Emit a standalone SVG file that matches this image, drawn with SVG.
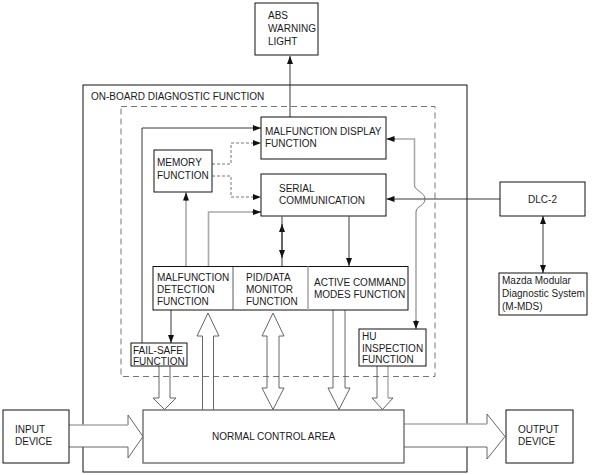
<svg xmlns="http://www.w3.org/2000/svg" width="594" height="475" viewBox="0 0 594 475">
<defs>
<style>
text{font-family:"Liberation Sans",Arial,sans-serif;font-size:10px;fill:#1a1a1a}
.box{fill:#fff;stroke:#111;stroke-width:1}
.ln{fill:none;stroke:#222;stroke-width:0.9}
.gr{fill:none;stroke:#aaa;stroke-width:1.6}
.ds{fill:none;stroke:#666;stroke-width:0.9;stroke-dasharray:3 2}
.blk{fill:none;stroke:#555;stroke-width:0.9}
</style>
<marker id="ah" viewBox="0 0 8 6" refX="8" refY="3" markerWidth="8" markerHeight="6" markerUnits="userSpaceOnUse" orient="auto">
<path d="M0,0 L8,3 L0,6 z" fill="#111"/>
</marker>
<marker id="as" viewBox="0 0 8 6" refX="0" refY="3" markerWidth="8" markerHeight="6" markerUnits="userSpaceOnUse" orient="auto">
<path d="M8,0 L0,3 L8,6 z" fill="#111"/>
</marker>
</defs>
<rect width="594" height="475" fill="#fff"/>

<g id="onboard">
<rect x="83" y="85" width="384" height="387" fill="none" stroke="#111" stroke-width="1"/>
<text x="91" y="100">ON-BOARD DIAGNOSTIC FUNCTION</text>
<rect x="121" y="106.5" width="314" height="270" fill="none" stroke="#666" stroke-width="0.9" stroke-dasharray="6 4"/>
</g>

<g id="connectors">
<line class="ln" x1="290" y1="117" x2="290" y2="56" marker-end="url(#ah)"/>
<polyline class="ln" points="142,343 142,128 261,128" marker-end="url(#ah)"/>
<polyline class="ds" points="212,164 231,164 231,143 261,143" marker-end="url(#ah)"/>
<polyline class="ds" points="212,176 231,176 231,197 261,197" marker-end="url(#ah)"/>
<line class="gr" x1="186" y1="266" x2="186" y2="200"/>
<line class="ln" x1="186" y1="201" x2="186" y2="192.5" marker-end="url(#ah)"/>
<polyline class="gr" points="208.5,266 208.5,212 253,212"/>
<line class="ln" x1="252" y1="212" x2="261" y2="212" marker-end="url(#ah)"/>
<line class="ln" x1="282" y1="224" x2="282" y2="258" marker-start="url(#as)" marker-end="url(#ah)"/>
<line class="ln" x1="282" y1="216.5" x2="282" y2="266"/>
<line class="ln" x1="349" y1="216.5" x2="349" y2="266" marker-end="url(#ah)"/>
<line class="ln" x1="500" y1="199" x2="386.5" y2="199" marker-end="url(#ah)"/>
<path class="gr" d="M394,139 H414.5 V185"/>
<path d="M414.5,185 C414.5,191 425,192 425,199 C425,206 416,206 416,212" fill="none" stroke="#666" stroke-width="0.9"/>
<line class="gr" x1="416" y1="212" x2="416" y2="321"/>
<line class="ln" x1="395" y1="139" x2="386.5" y2="139" marker-end="url(#ah)"/>
<line class="ln" x1="416" y1="320" x2="416" y2="329" marker-end="url(#ah)"/>
<line class="ln" x1="171" y1="310" x2="171" y2="343" marker-end="url(#ah)"/>
<line class="ln" x1="543" y1="216" x2="543" y2="273" marker-start="url(#as)" marker-end="url(#ah)"/>
<path class="blk" d="M159,366 V398 H153 L164.5,409.5 L176,398 H170 V366"/>
<path class="blk" d="M202.5,410 V336 H197 L208,313 L219,336 H213.5 V410"/>
<path class="blk" d="M267,336 H262 L273,313 L284,336 H279 V388 H284 L273,409.5 L262,388 H267 Z"/>
<path class="blk" d="M333,310 V388 H328 L339,409.5 L350,388 H345 V310"/>
<path class="blk" d="M377,366 V398 H372 L382.5,409.5 L393,398 H388"/>
<line x1="388" y1="366" x2="388" y2="398" stroke="#aaa" stroke-width="1.4"/>
<path d="M69,425 H128 V415 L143,436.5 L128,458 V447 H69 Z" fill="#fff" stroke="none"/>
<path d="M128,425 V415 L143,436.5 L128,458 V447 H69" fill="none" stroke="#555" stroke-width="0.9"/>
<line x1="69" y1="425" x2="128" y2="425" stroke="#aaa" stroke-width="1.4"/>
<path d="M404,424 H487 V414 L505,436.5 L487,459 V447 H404 Z" fill="#fff" stroke="none"/>
<path d="M487,424 V414 L505,436.5 L487,459 V447 H404" fill="none" stroke="#555" stroke-width="0.9"/>
<line x1="404" y1="424" x2="487" y2="424" stroke="#aaa" stroke-width="1.4"/>
</g>

<g id="abs">
<rect class="box" x="255" y="3" width="63" height="52"/>
<text x="268" y="19">ABS</text>
<text x="268" y="32">WARNING</text>
<text x="268" y="44.5">LIGHT</text>
</g>

<g id="mdf">
<rect class="box" x="261" y="117" width="125" height="42" stroke-width="1.3"/>
<text x="265" y="135">MALFUNCTION DISPLAY</text>
<text x="265" y="147">FUNCTION</text>
</g>

<g id="memory">
<rect class="box" x="154" y="150" width="58" height="42"/>
<text x="157" y="166">MEMORY</text>
<text x="157" y="179">FUNCTION</text>
</g>

<g id="serial">
<rect class="box" x="261" y="174" width="125" height="42" stroke-width="1.3"/>
<text x="279" y="192">SERIAL</text>
<text x="279" y="204">COMMUNICATION</text>
</g>

<g id="functions">
<rect class="box" x="153" y="266.5" width="255" height="43.5"/>
<line x1="233" y1="266.5" x2="233" y2="310" stroke="#333" stroke-width="0.8"/>
<line x1="308" y1="266.5" x2="308" y2="310" stroke="#aaa" stroke-width="1.6"/>
<text x="157" y="281">MALFUNCTION</text>
<text x="157" y="293">DETECTION</text>
<text x="157" y="305">FUNCTION</text>
<text x="246" y="281">PID/DATA</text>
<text x="246" y="293">MONITOR</text>
<text x="246" y="305">FUNCTION</text>
<text x="314" y="286">ACTIVE COMMAND</text>
<text x="314" y="298">MODES FUNCTION</text>
</g>

<g id="failsafe">
<rect class="box" x="131" y="343" width="56" height="23"/>
<text x="133" y="354">FAIL-SAFE</text>
<text x="133" y="364.5">FUNCTION</text>
</g>

<g id="hu">
<rect class="box" x="359" y="329" width="67" height="37"/>
<text x="362" y="340">HU</text>
<text x="362" y="351.5">INSPECTION</text>
<text x="362" y="363">FUNCTION</text>
</g>

<g id="dlc">
<rect class="box" x="500" y="182" width="85" height="34"/>
<text x="542.5" y="203" text-anchor="middle">DLC-2</text>
</g>

<g id="mmds">
<rect class="box" x="499" y="273" width="88" height="42"/>
<text x="502" y="284">Mazda Modular</text>
<text x="502" y="297">Diagnostic System</text>
<text x="502" y="310">(M-MDS)</text>
</g>

<g id="input">
<rect class="box" x="3" y="410" width="66" height="53"/>
<text x="15" y="433">INPUT</text>
<text x="15" y="445">DEVICE</text>
</g>

<g id="normal">
<rect x="143" y="410" width="261" height="53" fill="#fff" stroke="#555" stroke-width="1.2"/>
<text x="273.5" y="440" text-anchor="middle">NORMAL CONTROL AREA</text>
</g>

<g id="output">
<rect class="box" x="506" y="410" width="67" height="53"/>
<text x="518" y="433">OUTPUT</text>
<text x="518" y="445">DEVICE</text>
</g>
</svg>
